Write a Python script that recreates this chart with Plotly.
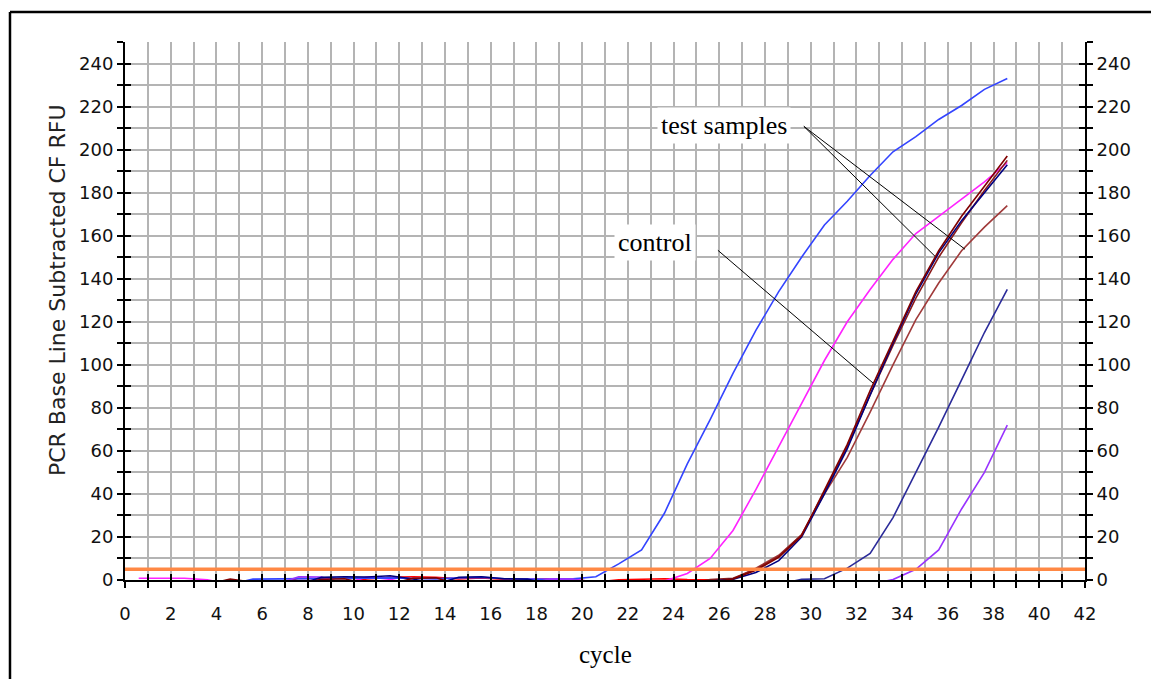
import plotly.graph_objects as go

# ---------------- data ----------------
CYCLES = [0.6, 1.6, 2.6, 3.6, 4.6, 5.6, 6.6, 7.6, 8.6, 9.6, 10.6, 11.6, 12.6, 13.6,
          14.6, 15.6, 16.6, 17.6, 18.6, 19.6, 20.6, 21.6, 22.6, 23.6, 24.6, 25.6,
          26.6, 27.6, 28.6, 29.6, 30.6, 31.6, 32.6, 33.6, 34.6, 35.6, 36.6, 37.6, 38.6]

RED = [-2, -2, -2, -2, -2, -2, -2, 0.8, 0.6, -1, 0.5, 1.2, 1.5, 1.2, 0.5, 1.0, 0.3, 0.2, 0.5,
       0.3, -1, 0.1, 0.4, 0.6, 0.2, 0.1, -2, -2, -2, -2, -2, -2, -2, -2, -2, -2, -2, -2, -2]
MAGENTA = [0.8, 0.8, 0.8, 0.1, -2, -2, -2, -2, -2, -2, 1.5, 0.3, -2, -2, -2, -2, -2, 0.3, 0.5,
           0.4, -1, -2, -2, -0.5, 3, 10, 23, 42, 62, 82, 102, 120, 135, 149, 161, 169, 177, 185, 194]
BLUE = [-2, -2, -2, -2, -2, 0.4, 0.5, 0.6, 0.8, 1.0, 0.9, 1.0, 0.7, 0.5, 1.0, 1.2, 0.6, 0.4, 0.3,
        0.5, 1.5, 7.5, 14, 31, 54, 74.5, 96, 116, 134, 150, 165, 176, 188, 199, 206, 214, 220.5, 228, 233]
PURPLE = [-2, -2, -2, -2, -2, -2, -2, 1.5, 1.4, -2, -2, -2, -2, -2, -2, -2, -2, -2, 0.5, 0.4,
          -2, -2, -2, -2, -2, -2, -2, -2, -2, -2, -2, -2, -2, 0.2, 5, 14, 33, 50, 72]
NAVY_LATE = [-2, -2, -2, -2, -2, -2, -2, -2, -2, -2, -2, -2, -2, -2, -2, -2, -2, -2, -2, -2,
             -2, -2, -2, -2, -2, -2, -2, -2, -2, 0.3, 0.6, 5.5, 12.3, 29, 50, 71, 93, 115, 135]
BROWN = [-2, -2, -2, -2, -2, -2, -2, -2, -2, -2, -2, -2, -2, -2, -2, -2, -2, -2, -2, -2,
         -2, -2, -2, -2, -2, -0.5, 0.5, 5.5, 11.5, 21, 40, 57, 78, 100, 121, 138, 153, 164, 174]
MAROON = [-2, -2, -2, -2, -2, -2, -2, -2, -2, -2, -2, -2, -2, -2, -2, -2, -2, -2, -2, -2,
          -2, -2, -2, -2, -2, 0.2, 0.8, 5, 11, 21, 41, 62, 86, 109, 131, 150, 166, 181, 195]
NAVY_DARK = [-2, -2, -2, -2, -2, -2, -2, -2, 1.2, 1.5, 1.4, 2.0, 0.5, -2, 1.3, 1.5, 0.6, 0.4, -2,
             -2, -2, -2, -2, -2, -2, -0.5, 0.3, 3.5, 9, 20, 40, 61, 86, 110, 133, 152, 167, 180, 193]
DARK_RED = [-2, -2, -2, -2, 0.4, -1, -2, -2, 0.3, 0.6, -2, -2, 0.8, 1.0, -2, -2, -2, -2, -2,
            -2, -2, -2, -2, -2, -2, -1, 0.5, 4.5, 10.5, 20.5, 42, 63, 88, 111, 134, 153, 169, 183, 197]

THRESHOLD = 5

X_TICKS = list(range(0, 43))
X_TICK_LABELS = [str(v) if v % 2 == 0 else "" for v in X_TICKS]
Y_TICKS = list(range(0, 251, 10))
Y_TICK_LABELS = [str(v) if (v % 20 == 0 and v <= 240) else "" for v in Y_TICKS]
X_GRID = list(range(1, 42))
Y_GRID = list(range(10, 241, 10))

Y_TITLE = "PCR Base Line Subtracted CF RFU"
X_TITLE = "cycle"
LABEL_TEST = "test samples"
LABEL_CONTROL = "control"

SERIES = [
    (RED, "#ff0000"),
    (MAGENTA, "#ff22ff"),
    (BLUE, "#3344ff"),
    (PURPLE, "#9933ff"),
    (NAVY_LATE, "#2b2b9a"),
    (BROWN, "#a03a3a"),
    (MAROON, "#8b1a1a"),
    (NAVY_DARK, "#000080"),
    (DARK_RED, "#800000"),
]

# ---------------- figure ----------------
fig = go.Figure()

# placeholder traces so every overlay axis is rendered (no data drawn)
for xa, ya in [("x2", "y5"), ("x", "y2"), ("x", "y3"), ("x", "y4")]:
    fig.add_trace(go.Scatter(x=[None], y=[None], xaxis=xa, yaxis=ya, mode="lines",
                             hoverinfo="skip", showlegend=False))

for vals, col in SERIES:
    fig.add_trace(go.Scatter(x=CYCLES, y=vals, mode="lines",
                             line=dict(color=col, width=1.6), hoverinfo="skip"))

tick_font = dict(family="DejaVu Sans", size=18, color="#111111")
X_RANGE = [0, 42]
Y_RANGE = [0, 250]

common_x = dict(range=X_RANGE, tickmode="array", zeroline=False, fixedrange=True)
common_y = dict(range=Y_RANGE, tickmode="array", zeroline=False, fixedrange=True)

fig.update_layout(
    width=1151, height=679,
    margin=dict(l=125, r=66, t=42, b=99),
    paper_bgcolor="white", plot_bgcolor="white",
    showlegend=False,
    xaxis=dict(**common_x, tickvals=X_TICKS, ticktext=X_TICK_LABELS, ticks="outside", ticklen=6,
               tickwidth=2, tickcolor="black", showline=True, linecolor="black", linewidth=2,
               showgrid=False, tickfont=tick_font, ticklabelstandoff=10, layer="above traces"),
    xaxis2=dict(**common_x, tickvals=X_GRID, overlaying="x", side="bottom", anchor="y5",
                ticks="", showticklabels=False, showgrid=True, gridcolor="#b4b4b4",
                gridwidth=2, showline=False),
    xaxis3=dict(**common_x, tickvals=X_TICKS, overlaying="x", side="bottom", anchor="y",
                ticks="inside", ticklen=6, tickwidth=2, tickcolor="black",
                showticklabels=False, showgrid=False, showline=False),
    yaxis=dict(**common_y, tickvals=Y_TICKS, ticktext=Y_TICK_LABELS, ticks="outside", ticklen=6,
               tickwidth=2, tickcolor="black", showline=True, linecolor="black", linewidth=2,
               showgrid=False, tickfont=tick_font, side="left"),
    yaxis2=dict(**common_y, tickvals=Y_TICKS, ticktext=Y_TICK_LABELS, ticks="outside", ticklen=6,
                tickwidth=2, tickcolor="black", showline=True, linecolor="black", linewidth=2,
                showgrid=False, tickfont=tick_font, side="right", overlaying="y", anchor="x"),
    yaxis3=dict(**common_y, tickvals=Y_TICKS, ticks="inside", ticklen=6, tickwidth=2,
                tickcolor="black", showticklabels=False, showgrid=False, side="left",
                overlaying="y", anchor="x"),
    yaxis4=dict(**common_y, tickvals=Y_TICKS, ticks="inside", ticklen=6, tickwidth=2,
                tickcolor="black", showticklabels=False, showgrid=False, side="right",
                overlaying="y", anchor="x"),
    yaxis5=dict(**common_y, tickvals=Y_GRID, ticks="", showticklabels=False,
                showgrid=True, gridcolor="#b4b4b4", gridwidth=2,
                overlaying="y", side="left", anchor="x2"),
)

# add a placeholder trace for the inside x ticks axis as well
fig.add_trace(go.Scatter(x=[None], y=[None], xaxis="x3", yaxis="y", mode="lines",
                         hoverinfo="skip", showlegend=False))

# threshold line
fig.add_shape(type="line", xref="paper", yref="y", x0=0, x1=1, y0=THRESHOLD, y1=THRESHOLD,
              line=dict(color="#ff8844", width=3.5), layer="above")

# pointer lines
for (xa, ya, xb, yb) in [(29.7, 210.8, 35.44, 150.4), (29.7, 210.8, 36.75, 153.7),
                         (25.94, 153.2, 32.73, 91.5)]:
    fig.add_shape(type="line", xref="x", yref="y", x0=xa, y0=ya, x1=xb, y1=yb,
                  line=dict(color="black", width=1))

serif = dict(family="Liberation Serif", size=26, color="black")
fig.add_annotation(x=26.2, y=211.2, xref="x", yref="y", text=LABEL_TEST, showarrow=False,
                   font=serif, bgcolor="white", borderpad=3)
fig.add_annotation(x=23.2, y=156.9, xref="x", yref="y", text=LABEL_CONTROL, showarrow=False,
                   font=serif, bgcolor="white", borderpad=3)

# axis titles
fig.add_annotation(x=-0.0708, y=0.539, xref="paper", yref="paper", text=Y_TITLE,
                   textangle=-90, showarrow=False, xanchor="center", yanchor="middle",
                   font=dict(family="DejaVu Sans", size=22, color="#222222"))
fig.add_annotation(x=0.5, y=-0.1394, xref="paper", yref="paper", text=X_TITLE,
                   showarrow=False, xanchor="center", yanchor="middle",
                   font=dict(family="Liberation Serif", size=25, color="black"))

# outer frame (left and top edges)
fig.add_shape(type="line", xref="paper", yref="paper", x0=-0.1198, x1=-0.1198, y0=-0.3, y1=1.0558,
              line=dict(color="black", width=2.5), layer="above")
fig.add_shape(type="line", xref="paper", yref="paper", x0=-0.1198, x1=1.2, y0=1.0558, y1=1.0558,
              line=dict(color="black", width=2.5), layer="above")

fig.write_html("out.html", post_script="document.body.style.margin='0';",
               config={"displayModeBar": False})
